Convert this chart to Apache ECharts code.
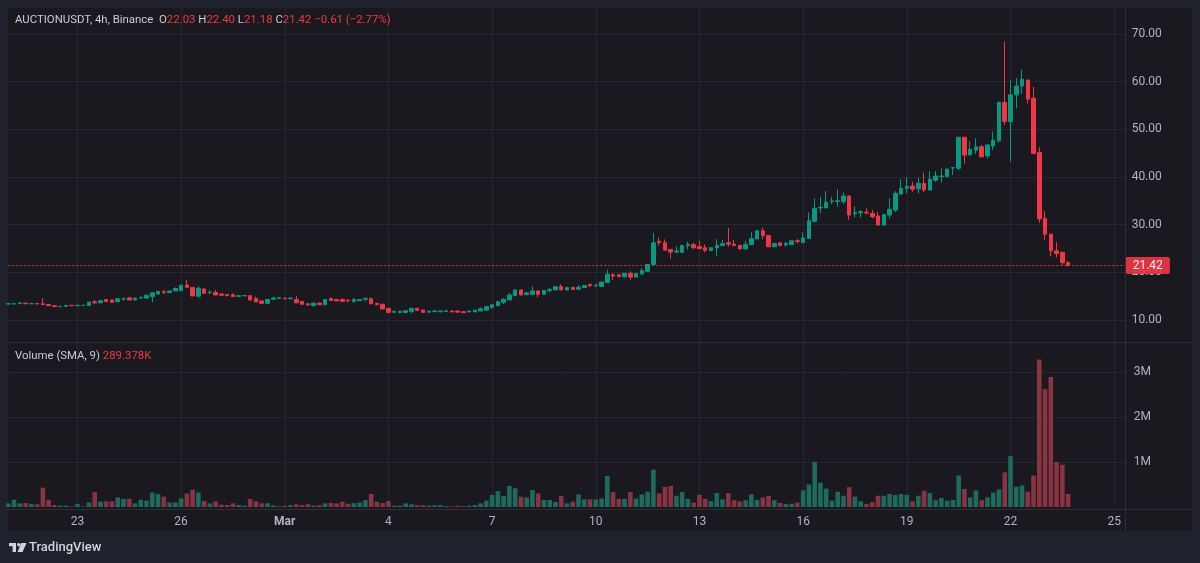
<!DOCTYPE html>
<html><head><meta charset="utf-8">
<script src="https://cdn.jsdelivr.net/npm/echarts@6/dist/echarts.min.js"></script>
<style>
html,body{margin:0;padding:0;background:#1f222c;width:1200px;height:563px;overflow:hidden}
#bg{position:absolute;left:8px;top:8px;width:1184px;height:523px;background:#19191f}
#chart{position:absolute;left:0;top:0;width:1200px;height:563px}
</style></head><body>
<div id="bg"></div><div id="chart"></div>
<script>
const symbolTitle = 'AUCTIONUSDT, 4h, Binance';
const volumeTitle = 'Volume (SMA, 9)';
const startUTC = Date.UTC(2023, 1, 21, 0, 0);   // first 4h candle
const slotCount = 195;                            // candles + empty space on the right
const tickDates  = ['02-23 00:00','02-26 00:00','03-01 00:00','03-04 00:00','03-07 00:00','03-10 00:00','03-13 00:00','03-16 00:00','03-19 00:00','03-22 00:00','03-25 00:00'];
const tickLabels = ['23','26','Mar','4','7','10','13','16','19','22','25'];
const priceTicks = [10,20,30,40,50,60,70];
const volumeTicks = [1,2,3];   // millions

const open = [
13.35,13.38,13.42,13.55,13.40,13.45,13.40,13.25,13.00,12.80,
12.85,13.08,13.00,13.05,13.05,13.80,13.60,14.30,14.20,13.85,
14.40,14.65,14.20,14.60,14.60,14.90,15.45,15.90,15.75,16.10,
16.15,17.35,16.85,15.00,16.50,15.75,15.80,15.45,15.35,15.30,
14.95,15.05,15.10,14.50,14.00,13.50,14.35,14.55,14.60,14.45,
14.30,13.90,13.40,13.00,13.55,13.20,14.50,14.30,14.30,14.20,
13.90,14.05,14.35,14.45,13.50,13.30,12.45,11.60,11.60,11.60,
11.75,12.45,12.10,11.65,11.75,11.70,11.80,11.90,11.90,11.75,
11.70,11.70,11.90,12.05,12.65,13.00,13.70,14.20,15.10,16.30,
15.30,15.40,16.10,15.40,16.15,16.30,17.00,16.30,16.85,16.45,
16.80,17.50,17.20,17.05,17.85,19.50,19.50,19.05,19.80,19.00,
19.65,20.20,21.65,26.50,26.20,24.80,24.25,24.20,25.60,25.80,
25.40,25.15,24.55,25.10,25.60,26.20,25.90,25.65,24.90,25.80,
27.00,28.70,27.70,25.35,26.20,25.75,25.80,26.60,26.20,27.10,
30.70,33.50,33.50,34.80,34.90,34.80,36.00,32.30,32.50,32.60,
32.35,31.80,29.90,32.00,33.05,36.40,37.60,38.10,37.50,38.65,
37.25,39.30,40.10,40.05,41.85,41.80,48.30,44.60,45.60,46.30,
44.40,46.50,47.60,55.60,51.60,57.20,59.05,60.30,56.50,45.10,
31.30,28.00,24.50,24.20,22.03];
const high = [
13.45,13.48,13.70,13.58,13.55,13.50,14.55,13.30,13.05,12.95,
13.10,13.15,13.15,13.12,13.80,14.20,14.10,14.45,14.25,14.50,
14.70,14.70,14.65,14.96,15.25,15.75,16.05,16.30,16.15,16.85,
17.35,18.40,16.90,17.10,16.60,16.30,16.30,15.50,15.40,15.60,
15.15,15.20,15.15,14.90,14.05,14.35,14.90,14.75,14.65,14.65,
15.00,13.95,13.45,13.60,13.60,14.35,14.75,14.35,14.50,14.25,
14.60,14.35,14.60,14.75,13.55,13.35,12.50,11.90,11.90,12.00,
12.50,12.50,12.15,11.90,12.10,11.95,12.00,11.95,11.95,11.80,
11.95,12.10,12.65,13.05,13.25,13.95,14.55,15.70,16.35,16.35,
15.75,17.10,16.15,16.25,16.80,17.00,17.50,16.90,16.90,17.35,
17.30,17.55,17.40,18.00,20.50,19.80,19.60,19.85,20.20,19.80,
20.95,21.80,28.20,27.30,26.90,24.85,25.50,25.65,26.40,26.20,
26.60,25.85,25.20,26.95,26.80,29.30,26.80,25.70,26.60,28.40,
28.75,29.40,27.75,26.10,26.25,26.40,26.65,27.00,28.40,32.60,
35.50,35.85,37.00,35.85,37.40,36.70,36.05,33.90,33.05,33.40,
33.05,32.60,32.15,35.50,37.00,39.50,39.90,39.00,39.80,40.90,
41.20,41.20,41.80,41.70,42.00,48.50,48.40,47.50,48.10,46.70,
46.75,49.50,55.80,68.35,60.30,60.70,62.50,60.35,58.90,46.20,
32.80,28.05,26.30,24.25,22.40];
const low = [
13.30,13.30,13.40,13.35,13.35,13.30,13.20,12.95,12.75,12.75,
12.80,12.95,12.95,13.00,13.00,13.35,13.55,13.80,13.65,13.80,
14.05,14.15,14.15,14.55,14.55,13.70,15.40,15.45,15.70,16.05,
16.10,16.80,15.00,14.75,15.55,15.40,15.20,15.15,15.05,14.85,
14.90,15.00,14.15,13.75,13.45,13.45,14.20,14.50,14.40,14.40,
13.55,13.25,13.10,12.95,13.15,13.15,14.05,13.95,13.85,13.70,
13.60,14.00,13.90,13.35,13.15,12.25,11.40,11.50,11.40,11.40,
11.40,11.95,11.55,11.60,11.70,11.65,11.75,11.65,11.60,11.50,
11.65,11.65,11.85,12.00,12.35,12.95,13.35,14.15,15.05,15.20,
15.25,15.35,14.75,15.35,15.80,16.25,16.25,16.25,16.35,16.40,
16.75,16.85,16.90,17.00,17.80,18.40,18.90,19.00,18.40,18.95,
19.45,20.15,21.60,25.60,24.60,22.90,23.95,24.15,24.80,24.90,
24.90,24.20,24.50,23.40,25.55,25.40,25.55,24.85,24.85,25.75,
26.95,26.90,25.30,25.30,25.55,25.35,25.75,26.00,26.15,27.05,
30.60,32.35,33.45,34.30,33.75,34.30,31.00,31.50,31.50,32.10,
31.30,29.85,29.85,31.30,32.60,36.35,36.55,36.90,36.55,36.80,
37.20,38.95,38.80,40.00,40.40,41.40,42.80,44.55,44.80,44.15,
43.90,45.60,47.20,50.90,43.20,54.40,57.40,55.40,44.80,30.40,
26.80,23.30,23.10,21.50,21.18];
const close = [
13.40,13.42,13.60,13.40,13.45,13.38,13.25,13.00,12.80,12.85,
13.05,13.00,13.10,13.10,13.75,13.60,14.05,13.85,13.70,14.45,
14.45,14.20,14.60,14.70,15.20,15.70,16.00,15.75,16.10,16.60,
17.30,16.85,15.05,16.65,15.60,15.85,15.25,15.20,15.10,14.90,
15.10,15.15,14.20,13.80,13.50,14.30,14.60,14.70,14.45,14.60,
13.60,13.30,13.15,13.55,13.20,14.30,14.10,14.00,13.90,14.05,
14.30,14.30,14.55,13.40,13.20,12.30,11.60,11.85,11.85,11.95,
12.45,12.00,11.60,11.85,11.90,11.90,11.95,11.70,11.65,11.55,
11.90,12.05,12.35,12.80,13.20,13.90,14.35,15.25,16.30,15.25,
15.70,16.10,15.40,16.20,16.40,16.98,16.30,16.85,16.40,16.85,
17.25,17.20,17.35,17.95,19.60,19.20,19.10,19.80,19.00,19.75,
20.35,21.65,26.20,26.20,24.65,24.25,24.45,25.60,25.90,25.15,
24.95,24.60,25.15,25.60,26.00,25.90,25.60,24.90,25.85,27.05,
28.70,27.70,25.35,26.05,25.60,26.05,26.60,26.45,27.20,30.80,
33.40,33.65,34.70,34.95,35.00,36.00,32.00,32.50,32.70,32.45,
31.65,29.90,32.10,33.20,36.55,37.60,38.00,37.40,38.65,37.25,
39.50,40.20,40.20,41.65,41.95,48.30,44.60,45.80,46.30,44.20,
46.70,47.70,55.60,51.60,57.20,59.05,60.45,56.30,44.90,31.20,
28.00,24.50,23.95,22.03,21.42];
const volumeM = [
0.08,0.16,0.08,0.09,0.07,0.06,0.43,0.16,0.045,0.03,
0.03,0.015,0.07,0.01,0.10,0.33,0.12,0.125,0.125,0.215,
0.18,0.185,0.08,0.16,0.14,0.32,0.29,0.23,0.10,0.10,
0.19,0.30,0.385,0.32,0.135,0.08,0.125,0.05,0.045,0.08,
0.045,0.03,0.18,0.125,0.08,0.085,0.035,0.018,0.03,0.04,
0.06,0.04,0.06,0.03,0.04,0.08,0.09,0.08,0.115,0.07,
0.085,0.10,0.155,0.29,0.115,0.09,0.135,0.03,0.03,0.08,
0.06,0.04,0.04,0.03,0.04,0.04,0.02,0.015,0.03,0.02,
0.03,0.045,0.08,0.14,0.27,0.355,0.245,0.467,0.415,0.23,
0.21,0.378,0.30,0.156,0.156,0.115,0.25,0.08,0.12,0.28,
0.17,0.17,0.17,0.19,0.69,0.33,0.18,0.18,0.33,0.19,
0.28,0.34,0.83,0.30,0.45,0.47,0.25,0.33,0.18,0.10,
0.27,0.18,0.13,0.31,0.17,0.31,0.15,0.125,0.15,0.28,
0.16,0.21,0.25,0.15,0.09,0.067,0.074,0.096,0.37,0.50,
1.00,0.54,0.41,0.14,0.34,0.25,0.44,0.23,0.126,0.067,
0.11,0.25,0.25,0.29,0.27,0.29,0.27,0.126,0.25,0.36,
0.31,0.15,0.20,0.14,0.155,0.70,0.40,0.21,0.37,0.15,
0.215,0.32,0.39,0.77,1.13,0.45,0.48,0.34,0.70,3.28,
2.62,2.89,1.00,0.94,0.289378];

// ---------- build ----------
const UP = '#089981', DOWN = '#f23645', UPV = '#1c6b5e', DOWNV = '#8a3441';
const TXT = '#b2b5be', GRID = '#26282f', FONT = 'Roboto, "Noto Sans", sans-serif';
const HF = 11.4;
const pad = n => String(n).padStart(2, '0');
const categories = [];
for (let i = 0; i < slotCount; i++) {
  const d = new Date(startUTC + i * 4 * 3600e3);
  categories.push(pad(d.getUTCMonth() + 1) + '-' + pad(d.getUTCDate()) + ' ' + pad(d.getUTCHours()) + ':00');
}
const isTick = (i, v) => tickDates.indexOf(categories[i]) >= 0;
const candles = close.map((c, i) => [open[i], c, low[i], high[i]]);
const vols = volumeM.map((v, i) => ({ value: v, itemStyle: { color: close[i] >= open[i] ? UPV : DOWNV } }));
const n = close.length;
const lastC = close[n - 1], lastO = open[n - 1], prevC = close[n - 2];
const chg = lastC - prevC, pct = chg / prevC * 100;
const fmtSigned = x => (x < 0 ? '\u2212' : '+') + Math.abs(x).toFixed(2);
const lastVol = volumeM[n - 1];
const volK = (lastVol * 1000).toFixed(3) + 'K';

const PL = 8.3, PW = 1117.4;
const chart = echarts.init(document.getElementById('chart'), null, { renderer: 'canvas' });
chart.setOption({
  backgroundColor: 'transparent',
  animation: false,
  textStyle: { fontFamily: FONT },
  title: [{
    left: 15, top: 15, padding: 0,
    text: `{s|${symbolTitle}}  {k|O}{v|${lastO.toFixed(2)}} {k|H}{v|${high[n-1].toFixed(2)}} {k|L}{v|${low[n-1].toFixed(2)}} {k|C}{v|${lastC.toFixed(2)}} {v|${fmtSigned(chg)} (${fmtSigned(pct)}%)}`,
    textStyle: { fontSize: HF, color: TXT, fontFamily: FONT, fontWeight: 'normal',
      rich: { s: { color: '#c9ccd4', fontSize: HF, fontFamily: FONT },
              k: { color: '#c9ccd4', fontSize: HF, fontFamily: FONT },
              v: { color: DOWN, fontSize: HF, fontFamily: FONT } } }
  }, {
    left: 15, top: 351, padding: 0,
    text: `{s|${volumeTitle}} {v|${volK}}`,
    textStyle: { fontSize: HF, color: TXT, fontFamily: FONT, fontWeight: 'normal',
      rich: { s: { color: '#c9ccd4', fontSize: HF, fontFamily: FONT },
              v: { color: DOWN, fontSize: HF, fontFamily: FONT } } }
  }],
  grid: [
    { left: PL, top: 8, width: PW, height: 334 },
    { left: PL, top: 343, width: PW, height: 164 }
  ],
  xAxis: [0, 1].map(g => ({
    type: 'category', gridIndex: g, data: categories, boundaryGap: false,
    axisLine: { show: false }, axisTick: { show: false },
    axisLabel: g === 1 ? {
      show: true, interval: isTick, margin: 9, color: TXT, fontSize: 12, fontFamily: FONT,
      formatter: v => { const k = tickDates.indexOf(v); const t = tickLabels[k]; return /^[A-Za-z]/.test(t) ? '{b|' + t + '}' : t; },
      rich: { b: { fontWeight: 'bold', color: TXT, fontSize: 12, fontFamily: FONT } }
    } : { show: false },
    splitLine: { show: true, interval: isTick, lineStyle: { color: GRID, width: 1 } }
  })),
  yAxis: [{
    type: 'value', gridIndex: 0, position: 'right', min: 5.39, max: 75.41,
    axisLine: { show: false },
    axisTick: { show: false, customValues: priceTicks },
    axisLabel: { customValues: priceTicks, formatter: v => v.toFixed(2), color: TXT, fontSize: 12, margin: 6, fontFamily: FONT },
    splitLine: { show: true, lineStyle: { color: GRID, width: 1 } }
  }, {
    type: 'value', gridIndex: 1, position: 'right', min: 0, max: 3.644,
    axisLine: { show: false },
    axisTick: { show: false, customValues: volumeTicks },
    axisLabel: { customValues: volumeTicks, formatter: v => v + 'M', color: TXT, fontSize: 12, margin: 8, fontFamily: FONT },
    splitLine: { show: true, lineStyle: { color: GRID, width: 1 } }
  }],
  series: [{
    type: 'candlestick', xAxisIndex: 0, yAxisIndex: 0, data: candles, barWidth: 4,
    itemStyle: { color: UP, color0: DOWN, borderColor: UP, borderColor0: DOWN, borderWidth: 1 },
    markLine: {
      silent: true, symbol: 'none', animation: false,
      data: [{ yAxis: lastC }],
      lineStyle: { color: DOWN, type: [2, 2], width: 1, opacity: 0.9 },
      label: { position: 'end', distance: 0, formatter: lastC.toFixed(2), color: '#fff', backgroundColor: DOWN,
        padding: [3, 7, 2, 7], fontSize: 12, fontFamily: FONT, borderRadius: 2 }
    }
  }, {
    type: 'bar', xAxisIndex: 1, yAxisIndex: 1, data: vols, barWidth: 4.6,
    markLine: {
      silent: true, symbol: 'none', animation: false,
      data: [{ yAxis: lastVol }],
      lineStyle: { opacity: 0, width: 0 },
      label: { position: 'end', distance: 0, formatter: volK, color: '#fff', backgroundColor: DOWN,
        padding: [2, 5, 1, 4], fontSize: 12, fontFamily: FONT, borderRadius: 2 }
    }
  }],
  graphic: [
    { type: 'line', shape: { x1: 8, y1: 342.5, x2: 1192, y2: 342.5 }, style: { stroke: '#2c2f38', lineWidth: 1 }, z: 10, silent: true },
    { type: 'line', shape: { x1: 1125.5, y1: 8, x2: 1125.5, y2: 531 }, style: { stroke: '#2c2f38', lineWidth: 1 }, z: 10, silent: true },
    { type: 'line', shape: { x1: 8, y1: 509.5, x2: 1192, y2: 509.5 }, style: { stroke: '#2c2f38', lineWidth: 1 }, z: 10, silent: true },
    { type: 'group', left: 9, top: 543, silent: true, children: [
      { type: 'rect', shape: { x: 0, y: 0, width: 7, height: 3.2 }, style: { fill: '#d1d4dc' } },
      { type: 'rect', shape: { x: 3.6, y: 0, width: 3.4, height: 9 }, style: { fill: '#d1d4dc' } },
      { type: 'circle', shape: { cx: 9.8, cy: 1.7, r: 1.7 }, style: { fill: '#d1d4dc' } },
      { type: 'polygon', shape: { points: [[12.2, 0], [17.5, 0], [13.6, 9], [8.6, 9]] }, style: { fill: '#d1d4dc' } }
    ]},
    { type: 'text', left: 29, top: 541, silent: true,
      style: { text: 'TradingView', fill: '#d1d4dc', fontSize: 13, fontWeight: 500, fontFamily: FONT } }
  ]
});
</script>
</body></html>
